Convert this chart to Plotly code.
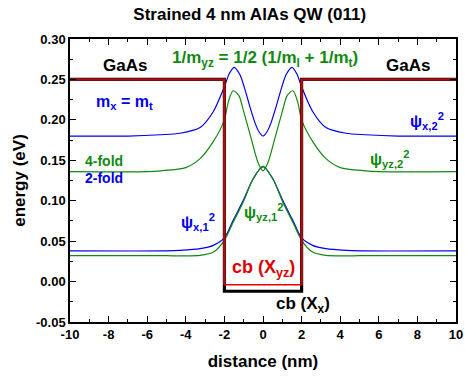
import plotly.graph_objects as go

# ---- data ----
# well profiles (conduction band edges)
cb_x_x = [-10, -2, -2, 2, 2, 10]
cb_x_y = [0.25, 0.25, -0.012, -0.012, 0.25, 0.25]          # cb (X_x)
cb_yz_y = [0.25, 0.25, -0.004, -0.004, 0.25, 0.25]         # cb (X_yz)

# psi_x,2^2 (blue, excited)
bx2_x = [-10, -7, -5.3, -4.3, -3.26, -2.58, -2.0, -1.75, -1.5, -1.2, -0.93, -0.7, -0.41, -0.2, 0,
         0.2, 0.41, 0.7, 0.93, 1.2, 1.5, 1.75, 2.0, 2.58, 3.26, 4.3, 5.3, 7, 10]
bx2_y = [0.180, 0.180, 0.1816, 0.1834, 0.1905, 0.210, 0.241, 0.257, 0.265, 0.256, 0.237, 0.218, 0.196, 0.185, 0.180,
         0.185, 0.196, 0.218, 0.237, 0.256, 0.265, 0.257, 0.241, 0.210, 0.1905, 0.1834, 0.1816, 0.180, 0.180]

# psi_yz,2^2 (green, excited)
gy2_x = [-10, -6, -5.3, -4.0, -3.26, -2.58, -2.0, -1.8, -1.55, -1.25, -1.02, -0.59, -0.24, 0,
         0.24, 0.59, 1.02, 1.25, 1.55, 1.8, 2.0, 2.58, 3.26, 4.0, 5.3, 6, 10]
gy2_y = [0.136, 0.136, 0.137, 0.141, 0.152, 0.173, 0.200, 0.222, 0.236, 0.230, 0.212, 0.175, 0.146, 0.137,
         0.146, 0.175, 0.212, 0.230, 0.236, 0.222, 0.200, 0.173, 0.152, 0.141, 0.137, 0.136, 0.136]

# psi_x,1^2 (blue, ground)
bx1_x = [-10, -5, -4.3, -3.26, -2.57, -2.0, -1.54, -1.02, -0.5, 0, 0.5, 1.02, 1.54, 2.0, 2.57, 3.26, 4.3, 5, 10]
bx1_y = [0.038, 0.038, 0.0386, 0.0407, 0.0448, 0.054, 0.076, 0.1006, 0.1275, 0.142,
         0.1275, 0.1006, 0.076, 0.054, 0.0448, 0.0407, 0.0386, 0.038, 0.038]

# psi_yz,1^2 (green, ground)
gy1_x = [-10, -5, -4.3, -3.26, -2.57, -2.0, -1.54, -1.02, -0.5, 0, 0.5, 1.02, 1.54, 2.0, 2.57, 3.26, 4.3, 5, 10]
gy1_y = [0.032, 0.032, 0.0318, 0.0324, 0.0365, 0.051, 0.0737, 0.0985, 0.1275, 0.1428,
         0.1275, 0.0985, 0.0737, 0.051, 0.0365, 0.0324, 0.0318, 0.032, 0.032]

x_tickvals = [-10, -8, -6, -4, -2, 0, 2, 4, 6, 8, 10]
x_ticktext = ["-10", "-8", "-6", "-4", "-2", "0", "2", "4", "6", "8", "10"]
y_tickvals = [-0.05, 0.00, 0.05, 0.10, 0.15, 0.20, 0.25, 0.30]
y_ticktext = ["-0.05", "0.00", "0.05", "0.10", "0.15", "0.20", "0.25", "0.30"]

BLUE = "#0000ee"
GREEN = "#108a10"
RED = "#e00000"
FONT = "Liberation Sans, Arial, sans-serif"

fig = go.Figure()

def curve(x, y, color):
    fig.add_trace(go.Scatter(x=x, y=y, mode="lines", line=dict(color=color, width=1.2, shape="spline", smoothing=0.8),
                             hoverinfo="skip", showlegend=False))

curve(bx2_x, bx2_y, BLUE)
curve(gy2_x, gy2_y, GREEN)
curve(bx1_x, bx1_y, BLUE)
curve(gy1_x, gy1_y, GREEN)

# cb (X_x): black thick
fig.add_trace(go.Scatter(x=cb_x_x, y=cb_x_y, mode="lines", line=dict(color="black", width=3.2),
                         hoverinfo="skip", showlegend=False))
# cb (X_yz): dark red over the barrier parts, thin red at the well bottom
fig.add_trace(go.Scatter(x=cb_x_x[:3] + [None] + cb_x_x[3:], y=cb_yz_y[:3] + [None] + cb_yz_y[3:], mode="lines",
                         line=dict(color="#a81010", width=2.6), hoverinfo="skip", showlegend=False))
fig.add_trace(go.Scatter(x=cb_x_x[2:4], y=cb_yz_y[2:4], mode="lines",
                         line=dict(color="#ee0000", width=1.5), hoverinfo="skip", showlegend=False))

def ann(x, y, text, color, size=15, bold=True):
    fig.add_annotation(x=x, y=y, xref="x", yref="y", text=text, showarrow=False,
                       font=dict(family=FONT, size=size, color=color, weight="bold" if bold else "normal"),
                       xanchor="center", yanchor="middle")

ann(-7.15, 0.267, "GaAs", "black", size=17)
ann(7.51, 0.267, "GaAs", "black", size=17)
ann(0.1, 0.275, "1/m<sub>yz</sub> = 1/2 (1/m<sub>l</sub> + 1/m<sub>t</sub>)", GREEN, size=17)
ann(-7.2, 0.221, "m<sub>x</sub> = m<sub>t</sub>", BLUE, size=16)
ann(-8.24, 0.1494, "4-fold", GREEN, size=14)
ann(-8.24, 0.128, "2-fold", BLUE, size=14)
ann(8.5, 0.198, "ψ<sub>x,2</sub><sup>2</sup>", BLUE, size=16)
ann(6.58, 0.151, "ψ<sub>yz,2</sub><sup>2</sup>", GREEN, size=16)
ann(-3.37, 0.074, "ψ<sub>x,1</sub><sup>2</sup>", BLUE, size=16)
ann(0.05, 0.086, "ψ<sub>yz,1</sub><sup>2</sup>", GREEN, size=16)
ann(0.0, 0.016, "cb (X<sub>yz</sub>)", RED, size=18)
ann(2.07, -0.029, "cb (X<sub>x</sub>)", "black", size=17)

axis_common = dict(showgrid=False, zeroline=False, showline=True, linecolor="black", linewidth=1.5,
                   ticks="inside", ticklen=6, tickwidth=1.2, tickcolor="black", mirror="ticks",
                   automargin=False,
                   tickfont=dict(family=FONT, size=13, color="black", weight="bold"))

fig.update_xaxes(range=[-10, 10], tickvals=x_tickvals, ticktext=x_ticktext,
                 minor=dict(ticks="inside", ticklen=3, dtick=1, tickcolor="black", tickwidth=1.2),
                 title=dict(text="distance (nm)", font=dict(family=FONT, size=17, color="black", weight="bold"),
                            standoff=14),
                 **axis_common)
fig.update_yaxes(range=[-0.05, 0.30], tickvals=y_tickvals, ticktext=y_ticktext,
                 minor=dict(ticks="inside", ticklen=3, dtick=0.025, tickcolor="black", tickwidth=1.2),
                 title=dict(text="energy (eV)", font=dict(family=FONT, size=17, color="black", weight="bold"),
                            standoff=6),
                 **axis_common)

fig.update_layout(
    width=465, height=376, autosize=False,
    margin=dict(l=70, r=9, t=39, b=54, autoexpand=False),
    paper_bgcolor="white", plot_bgcolor="white",
    title=dict(text="Strained 4 nm AlAs QW (011)", x=0.537, xanchor="center", y=0.962, yanchor="middle",
               xref="container", yref="container",
               font=dict(family=FONT, size=17, color="black", weight="bold")),
)

post = ("document.body.style.margin='0';document.body.style.overflow='hidden';"
        "var gd=document.getElementById('{plot_id}');"
        "Plotly.relayout(gd,{width:465,height:376});")

fig.write_html("out.html", config={"displayModeBar": False, "responsive": False}, post_script=post)
